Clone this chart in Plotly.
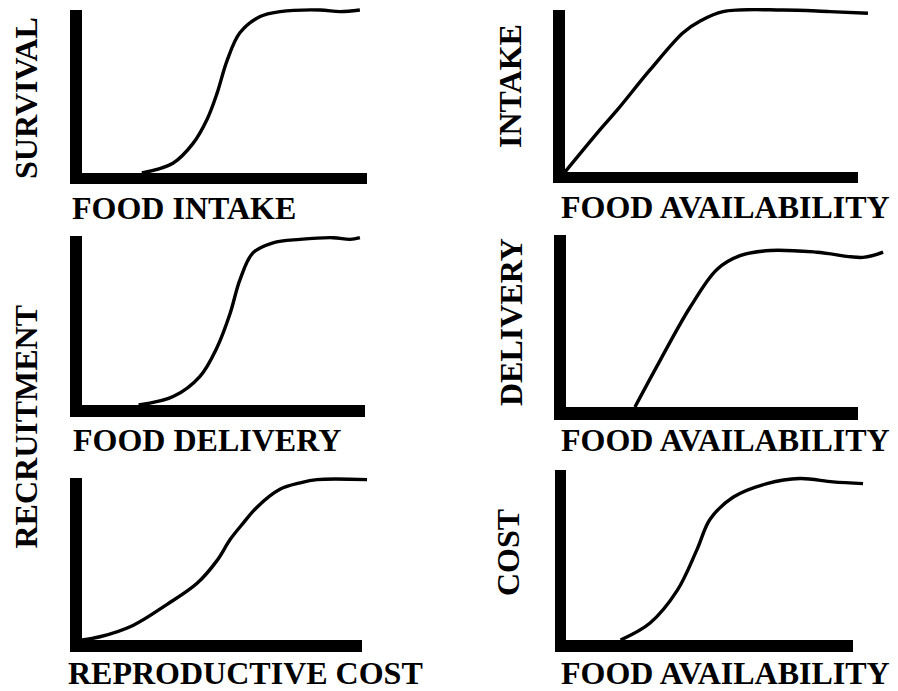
import plotly.graph_objects as go

# The page body adds an 8px margin; the figure is sized and positioned to compensate.
OFF = 8
W, H = 898 - OFF, 691 - OFF

# ---- data (x: 0-10 units along axis, y: 0-1 of axis height) ----
survival_x = [2.1, 3.19, 3.89, 4.39, 4.74, 5.09, 5.54, 6.25, 6.95, 8.35, 9.05, 9.75]
survival_y = [0.0, 0.06, 0.18, 0.33, 0.49, 0.69, 0.86, 0.96, 0.99, 1.0, 0.99, 1.0]

intake_x = [0.0, 1.19, 1.77, 2.9, 4.03, 4.6, 5.39, 7.44, 9.04, 10.34]
intake_y = [0.0, 0.26, 0.38, 0.63, 0.86, 0.93, 0.99, 1.0, 0.99, 0.98]

recruit_deliv_x = [2.0, 3.22, 4.17, 4.77, 5.23, 5.58, 6.04, 6.75, 7.7, 8.87, 9.47, 9.82]
recruit_deliv_y = [0.0, 0.05, 0.17, 0.34, 0.54, 0.74, 0.90, 0.96, 0.98, 0.99, 0.98, 0.99]

delivery_x = [2.36, 3.22, 4.25, 5.17, 5.96, 6.99, 8.6, 10.17, 10.86]
delivery_y = [0.0, 0.27, 0.58, 0.80, 0.88, 0.91, 0.90, 0.87, 0.90]

recruit_cost_x = [0.0, 0.64, 1.82, 3.04, 4.11, 4.82, 5.29, 5.75, 6.25, 7.07, 7.79, 8.39, 10.18]
recruit_cost_y = [0.0, 0.02, 0.09, 0.22, 0.35, 0.49, 0.62, 0.72, 0.82, 0.93, 0.97, 0.99, 0.99]

cost_x = [1.9, 2.93, 3.87, 4.56, 5.02, 5.82, 7.0, 8.15, 9.3, 10.35]
cost_y = [0.0, 0.10, 0.29, 0.53, 0.71, 0.84, 0.92, 0.95, 0.93, 0.92]

x_labels = ["FOOD INTAKE", "FOOD AVAILABILITY", "FOOD DELIVERY",
            "FOOD AVAILABILITY", "REPRODUCTIVE COST", "FOOD AVAILABILITY"]
y_labels = ["SURVIVAL", "INTAKE", "RECRUITMENT", "DELIVERY", "COST"]

series = [(survival_x, survival_y), (intake_x, intake_y),
          (recruit_deliv_x, recruit_deliv_y), (delivery_x, delivery_y),
          (recruit_cost_x, recruit_cost_y), (cost_x, cost_y)]

# ---- layout geometry (screen pixels) ----
panels = [
    dict(left=82, bottom=173, ux=28.5, uy=163),
    dict(left=565, bottom=172, ux=29.3, uy=162),
    dict(left=82, bottom=405, ux=28.3, uy=169),
    dict(left=566, bottom=407, ux=29.2, uy=172),
    dict(left=82, bottom=640, ux=28.0, uy=162),
    dict(left=566, bottom=640, ux=28.7, uy=170),
]
# axis bars: (vx0, vx1, vtop, hx1, hy0, hy1)
bars = [
    (70, 82, 10, 367, 173, 184),
    (553, 565, 10, 858, 172, 183),
    (70, 82, 236, 365, 405, 417),
    (554, 566, 235, 858, 407, 420),
    (70, 82, 478, 362, 640, 652),
    (555, 566, 470, 853, 640, 652),
]
xlab_pos = [(183.5, 207.5), (725, 207), (207, 440), (725, 440), (245, 673), (725, 673)]
ylab_pos = [(26, 98), (510, 86), (25.5, 427), (511, 322), (508, 553)]


def fx(p):
    return (p - OFF) / W


def fy(p):
    return 1 - (p - OFF) / H


XMAX, YMAX = 11.0, 1.05
FONT = dict(family="Liberation Serif, Times New Roman, serif", size=32, color="black", weight="bold")

fig = go.Figure()
shapes = []
annotations = []
for i, (p, (xs, ys)) in enumerate(zip(panels, series), start=1):
    xa = "x" if i == 1 else f"x{i}"
    ya = "y" if i == 1 else f"y{i}"
    fig.add_trace(go.Scatter(x=xs, y=ys, mode="lines", xaxis=xa, yaxis=ya,
                             line=dict(color="black", width=3.4, shape="spline", smoothing=1.0),
                             showlegend=False, hoverinfo="skip"))
    xd = [fx(p["left"]), min(1.0, fx(p["left"] + XMAX * p["ux"]))]
    yd = [fy(p["bottom"]), min(1.0, fy(p["bottom"] - YMAX * p["uy"]))]
    xr = [0, (xd[1] * W + OFF - p["left"]) / p["ux"]]
    yr = [0, (p["bottom"] - ((1 - yd[1]) * H + OFF)) / p["uy"]]
    common = dict(visible=False, showgrid=False, zeroline=False, fixedrange=True)
    fig.update_layout(**{
        ("xaxis" if i == 1 else f"xaxis{i}"): dict(domain=xd, range=xr, anchor=ya, **common),
        ("yaxis" if i == 1 else f"yaxis{i}"): dict(domain=yd, range=yr, anchor=xa, **common),
    })
    vx0, vx1, vtop, hx1, hy0, hy1 = bars[i - 1]
    shapes.append(dict(type="rect", xref="paper", yref="paper", layer="above",
                       x0=fx(vx0), x1=fx(vx1), y0=fy(hy1), y1=fy(vtop),
                       fillcolor="black", line=dict(width=0)))
    shapes.append(dict(type="rect", xref="paper", yref="paper", layer="above",
                       x0=fx(vx0), x1=fx(hx1), y0=fy(hy1), y1=fy(hy0),
                       fillcolor="black", line=dict(width=0)))
    cx, cy = xlab_pos[i - 1]
    annotations.append(dict(text=x_labels[i - 1], xref="paper", yref="paper",
                            x=fx(cx), y=fy(cy), xanchor="center", yanchor="middle",
                            showarrow=False, font=FONT))

for lab, (cx, cy) in zip(y_labels, ylab_pos):
    annotations.append(dict(text=lab, xref="paper", yref="paper", textangle=-90,
                            x=fx(cx), y=fy(cy), xanchor="center", yanchor="middle",
                            showarrow=False, font=FONT))

fig.update_layout(width=W, height=H, margin=dict(l=0, r=0, t=0, b=0),
                  paper_bgcolor="white", plot_bgcolor="white",
                  shapes=shapes, annotations=annotations, showlegend=False)

fig.write_html("out.html")
